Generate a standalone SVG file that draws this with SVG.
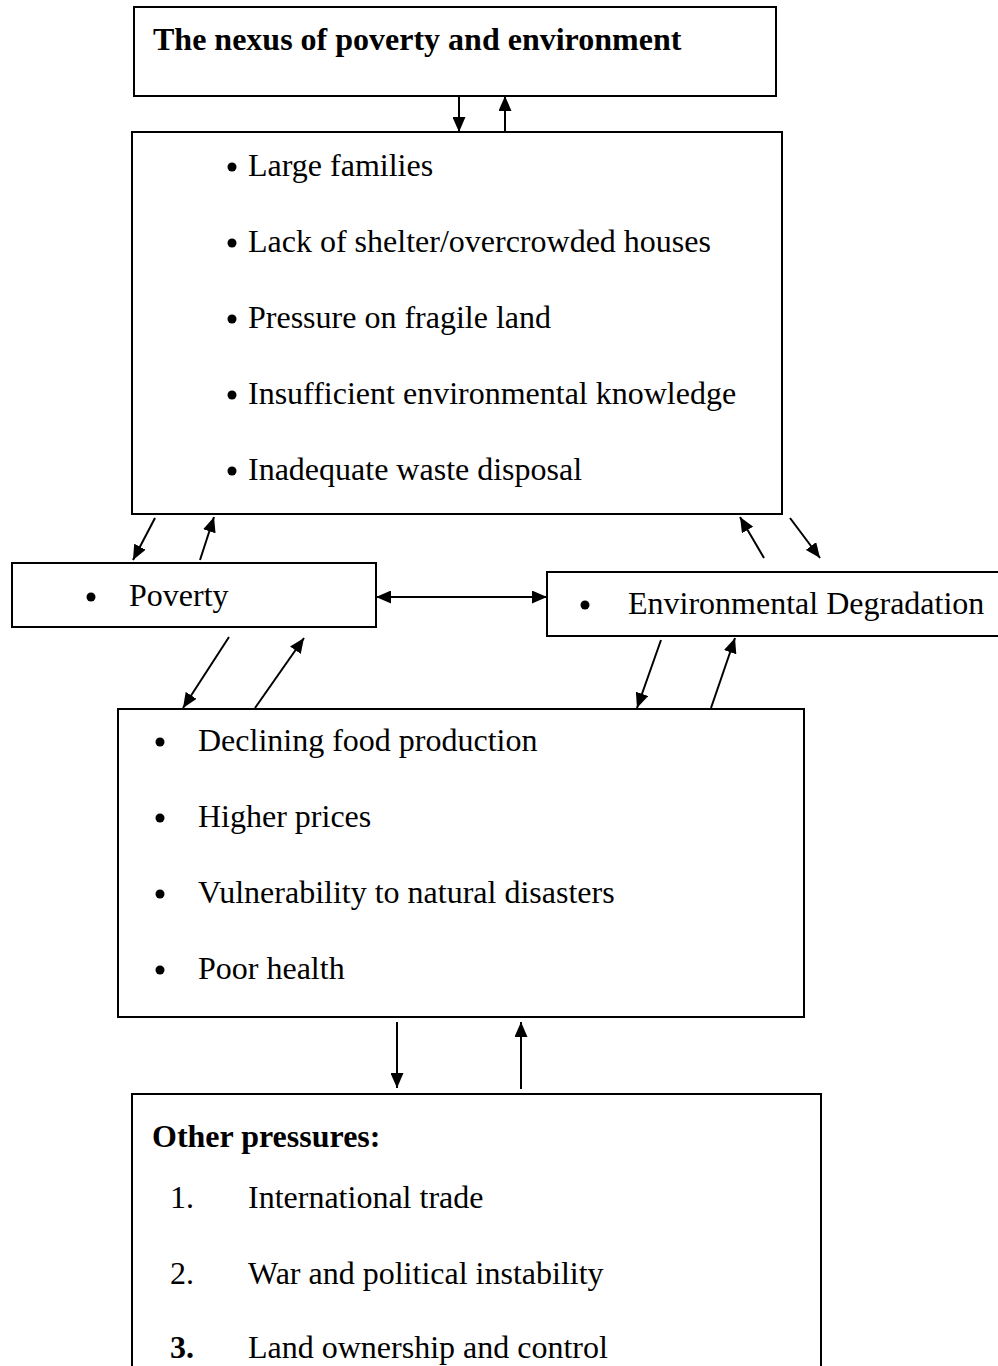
<svg xmlns="http://www.w3.org/2000/svg" width="998" height="1366" viewBox="0 0 998 1366">
<style>
.box{fill:#fff;stroke:#000;stroke-width:2}
.t{font-family:"Liberation Serif","Times New Roman",serif;font-size:32px;fill:#000}
.b{font-weight:bold}
.c{stroke:#000;stroke-width:2;fill:none}
</style>
<defs>
<marker id="ah" viewBox="0 0 15 13" refX="15" refY="6.5" markerWidth="15" markerHeight="13" markerUnits="userSpaceOnUse" orient="auto-start-reverse">
<path d="M0,0 L15,6.5 L0,13 Z" fill="#000"/>
</marker>
</defs>
<rect width="998" height="1366" fill="#fff"/>
<g id="connectors">
<line class="c" x1="459" y1="96" x2="459" y2="132" marker-end="url(#ah)"/>
<line class="c" x1="505" y1="132" x2="505" y2="96" marker-end="url(#ah)"/>
<line class="c" x1="155" y1="518" x2="133" y2="560" marker-end="url(#ah)"/>
<line class="c" x1="200" y1="560" x2="214" y2="517" marker-end="url(#ah)"/>
<line class="c" x1="764" y1="558" x2="740" y2="517" marker-end="url(#ah)"/>
<line class="c" x1="790" y1="518" x2="820" y2="558" marker-end="url(#ah)"/>
<line class="c" x1="376" y1="597" x2="547" y2="597" stroke-width="2.5" marker-start="url(#ah)" marker-end="url(#ah)"/>
<line class="c" x1="229" y1="637" x2="183" y2="708" marker-end="url(#ah)"/>
<line class="c" x1="255" y1="708" x2="304" y2="638" marker-end="url(#ah)"/>
<line class="c" x1="661" y1="640" x2="637" y2="708" marker-end="url(#ah)"/>
<line class="c" x1="711" y1="708" x2="735" y2="638" marker-end="url(#ah)"/>
<line class="c" x1="397" y1="1022" x2="397" y2="1088" marker-end="url(#ah)"/>
<line class="c" x1="521" y1="1089" x2="521" y2="1022" marker-end="url(#ah)"/>
</g>
<g id="title">
<rect class="box" x="134" y="7" width="642" height="89"/>
<text class="t b" x="153" y="50">The nexus of poverty and environment</text>
</g>
<g id="causes">
<rect class="box" x="132" y="132" width="650" height="382"/>
<circle cx="232" cy="167" r="4.5"/><text class="t" x="248" y="176">Large families</text>
<circle cx="232" cy="243" r="4.5"/><text class="t" x="248" y="252">Lack of shelter/overcrowded houses</text>
<circle cx="232" cy="319" r="4.5"/><text class="t" x="248" y="328">Pressure on fragile land</text>
<circle cx="232" cy="395" r="4.5"/><text class="t" x="248" y="404">Insufficient environmental knowledge</text>
<circle cx="232" cy="471" r="4.5"/><text class="t" x="248" y="480">Inadequate waste disposal</text>
</g>
<g id="poverty">
<rect class="box" x="12" y="563" width="364" height="64"/>
<circle cx="91" cy="597" r="4.5"/><text class="t" x="129" y="606">Poverty</text>
</g>
<g id="envdeg">
<rect class="box" x="547" y="572" width="460" height="64"/>
<circle cx="585" cy="605" r="4.5"/><text class="t" x="628" y="614">Environmental Degradation</text>
</g>
<g id="effects">
<rect class="box" x="118" y="709" width="686" height="308"/>
<circle cx="160" cy="742" r="4.5"/><text class="t" x="198" y="751">Declining food production</text>
<circle cx="160" cy="818" r="4.5"/><text class="t" x="198" y="827">Higher prices</text>
<circle cx="160" cy="894" r="4.5"/><text class="t" x="198" y="903">Vulnerability to natural disasters</text>
<circle cx="160" cy="970" r="4.5"/><text class="t" x="198" y="979">Poor health</text>
</g>
<g id="other">
<rect class="box" x="132" y="1094" width="689" height="290"/>
<text class="t b" x="152" y="1147">Other pressures:</text>
<text class="t" x="170" y="1208">1.</text><text class="t" x="248" y="1208">International trade</text>
<text class="t" x="170" y="1284">2.</text><text class="t" x="248" y="1284">War and political instability</text>
<text class="t b" x="170" y="1358">3.</text><text class="t" x="248" y="1358">Land ownership and control</text>
</g>
</svg>
